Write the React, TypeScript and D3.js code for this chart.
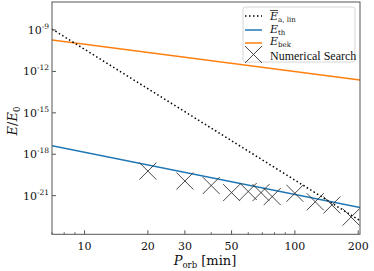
import React from "react";
import * as d3 from "d3";

const W = 374;
const H = 271;

// x-axis (orbital period, minutes)
const xTickLabels = [10, 20, 30, 50, 100, 200];
const xMinorTicks = [7, 8, 9, 40, 60, 70, 80, 90];
// y-axis exponents
const yTickExps = [-9, -12, -15, -18, -21];

// lines (power laws -> straight in log-log), endpoints
const linePeriods = [7, 204];
const eLinValues = [1.17e-9, 1.55e-23];
const eThValues = [4.2e-18, 1.4e-22];
const eBekValues = [1.9e-10, 2.4e-13];

// numerical search points
const searchPeriods = [20, 30, 40, 50, 60, 69, 78, 100, 125, 150, 185];
const searchValues = [6.0e-20, 1.15e-20, 5.4e-21, 1.66e-21, 2.0e-21, 1.66e-21, 8.5e-22, 1.48e-21, 3.6e-22, 2.1e-22, 2.8e-23];

const BLUE = "#1f77b4";
const ORANGE = "#ff7f0e";
const SERIF = "'DejaVu Serif', serif";

export default function App() {
  const left = 52, right = 360, top = 2, bottom = 234.3;
  const x = d3.scaleLog().domain([7, 204]).range([left, right]);
  const y = d3.scaleLog().domain([Math.pow(10, -6.971), Math.pow(10, -23.8)]).range([top, bottom]);
  const line = d3.line<[number, number]>().x((d) => x(d[0])).y((d) => y(d[1]));
  const mk = (vals: number[]) => linePeriods.map((p, i) => [p, vals[i]] as [number, number]);
  const cs = 8.5;

  const cross = (cx: number, cy: number, key: any) => (
    <path key={key} d={`M${cx - cs},${cy - cs}L${cx + cs},${cy + cs}M${cx - cs},${cy + cs}L${cx + cs},${cy - cs}`}
      stroke="#333" strokeWidth={0.9} fill="none" />
  );

  const lx = 245, lx2 = 262, tx = 270;
  return (
    <svg width={W} height={H} style={{ position: "absolute", left: 0, top: 0, background: "#fff" }}
      fontFamily={SERIF}>
      <defs>
        <clipPath id="plot">
          <rect x={left} y={top} width={right - left} height={bottom - top} />
        </clipPath>
      </defs>
      <g clipPath="url(#plot)">
        <path d={line(mk(eBekValues)) || ""} stroke={ORANGE} strokeWidth={1.5} fill="none" />
        <path d={line(mk(eThValues)) || ""} stroke={BLUE} strokeWidth={1.5} fill="none" />
        <path d={line(mk(eLinValues)) || ""} stroke="#000" strokeWidth={1.5} strokeDasharray="1.5,2.5" fill="none" />
        {searchPeriods.map((p, i) => cross(x(p), y(searchValues[i]), i))}
      </g>
      {/* frame */}
      <rect x={left} y={top} width={right - left} height={bottom - top} fill="none" stroke="#555" strokeWidth={1} />
      {/* x ticks */}
      {xTickLabels.map((t) => (
        <g key={"xt" + t}>
          <line x1={x(t)} x2={x(t)} y1={bottom} y2={bottom - 4} stroke="#555" />
          <text x={x(t)} y={250} fontSize={11} textAnchor="middle" fill="#111">{t}</text>
        </g>
      ))}
      {xMinorTicks.map((t) => (
        <line key={"xm" + t} x1={x(t)} x2={x(t)} y1={bottom} y2={bottom - 2} stroke="#555" />
      ))}
      {/* y ticks */}
      {yTickExps.map((e) => {
        const yy = y(Math.pow(10, e));
        return (
          <g key={"yt" + e}>
            <line x1={left} x2={left + 4} y1={yy} y2={yy} stroke="#555" />
            <text x={49} y={yy + 4} fontSize={11} textAnchor="end" fill="#111">
              10<tspan fontSize={7.5} dy={-5}>{String(e)}</tspan>
            </text>
          </g>
        );
      })}
      {/* axis labels */}
      <text x={205} y={265} fontSize={13} textAnchor="middle" fill="#111">
        <tspan fontStyle="italic">P</tspan>
        <tspan fontSize={8.5} dy={3}>orb</tspan>
        <tspan dy={-3}> [min]</tspan>
      </text>
      <text transform="translate(17,121) rotate(-90)" fontSize={13} textAnchor="middle" fill="#111">
        <tspan fontStyle="italic">E</tspan>
        <tspan>/</tspan>
        <tspan fontStyle="italic">E</tspan>
        <tspan fontSize={8.5} dy={3}>0</tspan>
      </text>
      {/* legend */}
      <rect x={243} y={7} width={112} height={55} rx={2.5} fill="#fff" fillOpacity={0.8} stroke="#ccc" strokeWidth={0.8} />
      <line x1={lx} x2={lx2} y1={16} y2={16} stroke="#000" strokeWidth={1.5} strokeDasharray="1.5,2.5" />
      <line x1={lx} x2={lx2} y1={30} y2={30} stroke={BLUE} strokeWidth={1.5} />
      <line x1={lx} x2={lx2} y1={43} y2={43} stroke={ORANGE} strokeWidth={1.5} />
      {cross(253.5, 54.5, "leg")}
      <g fontSize={11} fill="#111">
        <line x1={tx} x2={tx + 8} y1={10.5} y2={10.5} stroke="#222" strokeWidth={0.8} />
        <text x={tx} y={20}>
          <tspan fontStyle="italic">E</tspan>
          <tspan fontSize={7} dy={1.5}>a, lin</tspan>
        </text>
        <text x={tx} y={33}>
          <tspan fontStyle="italic">E</tspan>
          <tspan fontSize={7} dy={1.5}>th</tspan>
        </text>
        <text x={tx} y={45}>
          <tspan fontStyle="italic">E</tspan>
          <tspan fontSize={7} dy={1.5}>bek</tspan>
        </text>
        <text x={tx} y={59.5} fontFamily="'Liberation Serif', serif" fontSize={12}>Numerical Search</text>
      </g>
    </svg>
  );
}
